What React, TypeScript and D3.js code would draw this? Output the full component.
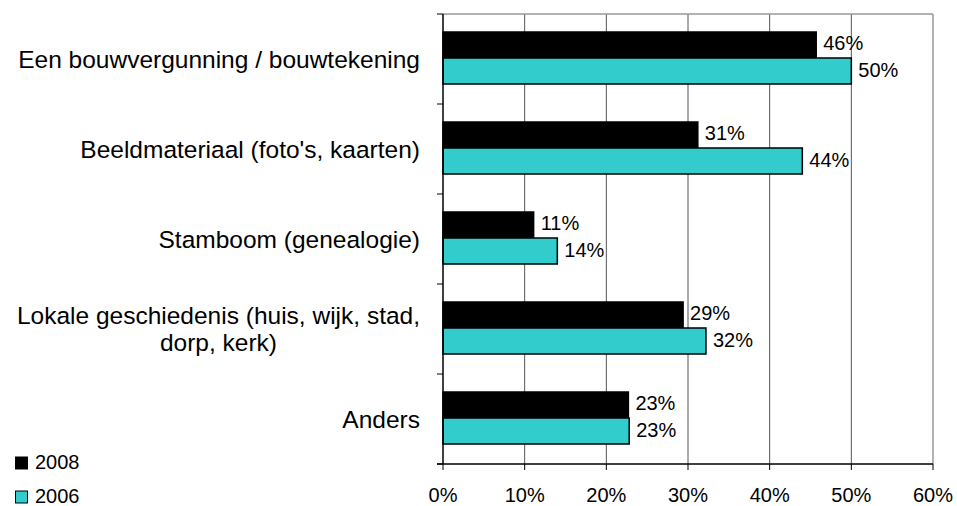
import React, { useRef, useEffect } from "react";
import * as d3 from "d3";

const categories = [
  ["Een bouwvergunning / bouwtekening"],
  ["Beeldmateriaal (foto's, kaarten)"],
  ["Stamboom (genealogie)"],
  ["Lokale geschiedenis (huis, wijk, stad,", "dorp, kerk)"],
  ["Anders"],
];
const series2008 = [45.7, 31.2, 11.1, 29.4, 22.7];
const series2006 = [50.0, 44.0, 14.0, 32.2, 22.8];
const seriesNames = ["2008", "2006"];
const seriesColors = ["#000000", "#33CCCC"];
const xTicks = [0, 10, 20, 30, 40, 50, 60];

const FONT = "Arial, 'Liberation Sans', sans-serif";

const App: React.FC = () => {
  const svgRef = useRef<SVGSVGElement | null>(null);
  const width = 957;
  const height = 506;

  useEffect(() => {
    const svg = d3.select(svgRef.current);
    svg.selectAll("*").remove();

    const margin = { top: 14, left: 443, right: 24, bottom: 42 };
    const innerWidth = width - margin.left - margin.right;
    const innerHeight = height - margin.top - margin.bottom;

    const x = d3.scaleLinear().domain([0, 60]).range([0, innerWidth]);
    const y = d3
      .scaleBand<number>()
      .domain(d3.range(categories.length))
      .range([0, innerHeight]);

    const g = svg
      .append("g")
      .attr("transform", `translate(${margin.left},${margin.top})`);

    // Gridlines
    xTicks.slice(1).forEach((t) => {
      g.append("line")
        .attr("x1", x(t))
        .attr("x2", x(t))
        .attr("y1", 0)
        .attr("y2", innerHeight)
        .attr("stroke", t === 60 ? "#999" : "#555")
        .attr("stroke-width", t === 60 ? 1.5 : 1);
    });
    // Top border
    g.append("line")
      .attr("x1", 0)
      .attr("x2", innerWidth)
      .attr("y1", 0)
      .attr("y2", 0)
      .attr("stroke", "#999")
      .attr("stroke-width", 1.5);

    // Bars
    const barH = 26;
    const offset = 18;
    const data = [series2008, series2006];
    data.forEach((vals, si) => {
      vals.forEach((v, ci) => {
        const by = (y(ci) as number) + offset + si * barH;
        g.append("rect")
          .attr("x", 0)
          .attr("y", by)
          .attr("width", x(v))
          .attr("height", barH)
          .attr("fill", seriesColors[si])
          .attr("stroke", "#000")
          .attr("stroke-width", 1.5);
        g.append("text")
          .attr("x", x(v) + 7)
          .attr("y", by + barH / 2)
          .attr("dy", si === 0 ? "0.26em" : "0.32em")
          .attr("font-family", FONT)
          .attr("font-size", "20px")
          .attr("fill", "#000")
          .text(`${Math.round(v)}%`);
      });
    });

    // Left axis
    g.append("line")
      .attr("x1", 0)
      .attr("x2", 0)
      .attr("y1", 0)
      .attr("y2", innerHeight)
      .attr("stroke", "#000")
      .attr("stroke-width", 1.5);
    d3.range(categories.length + 1).forEach((i) => {
      const ty = i < categories.length ? (y(i) as number) : innerHeight;
      g.append("line")
        .attr("x1", -6)
        .attr("x2", 0)
        .attr("y1", ty)
        .attr("y2", ty)
        .attr("stroke", "#000");
    });

    // Bottom axis
    g.append("line")
      .attr("x1", -6)
      .attr("x2", innerWidth)
      .attr("y1", innerHeight)
      .attr("y2", innerHeight)
      .attr("stroke", "#000")
      .attr("stroke-width", 1.5);
    xTicks.forEach((t) => {
      g.append("line")
        .attr("x1", x(t))
        .attr("x2", x(t))
        .attr("y1", innerHeight)
        .attr("y2", innerHeight + 6)
        .attr("stroke", "#000");
      g.append("text")
        .attr("x", x(t))
        .attr("y", innerHeight + 38)
        .attr("text-anchor", "middle")
        .attr("font-family", FONT)
        .attr("font-size", "20px")
        .text(`${t}%`);
    });

    // Category labels
    categories.forEach((lines, ci) => {
      const cy = (y(ci) as number) + y.bandwidth() / 2;
      const lineH = 27;
      const startY = cy - ((lines.length - 1) * lineH) / 2;
      const first = g
        .append("text")
        .attr("x", -23)
        .attr("y", startY)
        .attr("dy", "0.36em")
        .attr("text-anchor", "end")
        .attr("font-family", FONT)
        .attr("font-size", "24.5px")
        .text(lines[0]);
      if (lines.length > 1) {
        const w = (first.node() as SVGTextElement).getComputedTextLength();
        lines.slice(1).forEach((l, li) => {
          g.append("text")
            .attr("x", -23 - w / 2)
            .attr("y", startY + (li + 1) * lineH)
            .attr("dy", "0.36em")
            .attr("text-anchor", "middle")
            .attr("font-family", FONT)
            .attr("font-size", "24.5px")
            .text(l);
        });
      }
    });

    // Legend
    seriesNames.forEach((name, i) => {
      const ly = 463 + i * 34;
      svg
        .append("rect")
        .attr("x", 15.5)
        .attr("y", ly - 6)
        .attr("width", 12)
        .attr("height", 12)
        .attr("fill", seriesColors[i])
        .attr("stroke", "#000");
      svg
        .append("text")
        .attr("x", 35)
        .attr("y", ly + 5.5)
        .attr("font-family", FONT)
        .attr("font-size", "20px")
        .text(name);
    });
  }, []);

  return (
    <svg
      ref={svgRef}
      width={width}
      height={height}
      style={{ position: "absolute", left: 0, top: 0, background: "#fff" }}
    ></svg>
  );
};

export default App;
